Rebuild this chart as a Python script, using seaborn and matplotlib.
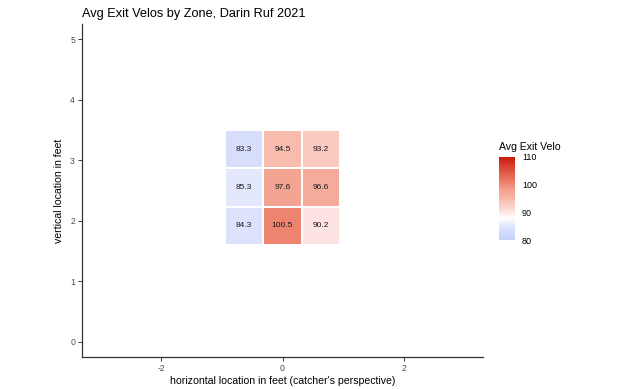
import numpy as np
import pandas as pd
import matplotlib
matplotlib.use("Agg")
import matplotlib.pyplot as plt
from matplotlib.colors import LinearSegmentedColormap
import seaborn as sns

# ---- data ----
zone_x = [-0.633, 0.0, 0.633, -0.633, 0.0, 0.633, -0.633, 0.0, 0.633]
zone_y = [3.183, 3.183, 3.183, 2.55, 2.55, 2.55, 1.917, 1.917, 1.917]
exit_velo = [83.3, 94.5, 93.2, 85.3, 97.6, 96.6, 84.3, 100.5, 90.2]
zone_w = 0.633
zone_h = 0.633
x_ticks = [-2, 0, 2]
y_ticks = [0, 1, 2, 3, 4, 5]
cbar_ticks = [80, 90, 100, 110]
title = "Avg Exit Velos by Zone, Darin Ruf 2021"
xlabel = "horizontal location in feet (catcher's perspective)"
ylabel = "vertical location in feet"
legend_title = "Avg Exit Velo"

df = pd.DataFrame({"x": zone_x, "y": zone_y, "v": exit_velo})

sns.set_theme(style="white")
plt.rcParams["font.family"] = ["Liberation Sans", "DejaVu Sans"]
plt.rcParams["axes.unicode_minus"] = False

vmin, vmax = 80, 110
anchors = [(80, "#c5d1fb"), (83.3, "#d6defc"), (84.3, "#dde3fc"), (85.3, "#e4e8fc"),
           (88, "#ffffff"), (90.2, "#fde3e1"), (93.2, "#fac9bf"), (94.5, "#f8bcaf"),
           (96.6, "#f5ab9a"), (97.6, "#f4a594"), (100.5, "#ee8470"), (110, "#cc1a0e")]
cmap = LinearSegmentedColormap.from_list(
    "ev", [((v - vmin) / (vmax - vmin), c) for v, c in anchors])

W, H = 624, 389
fig = plt.figure(figsize=(W / 100, H / 100), dpi=100)
ax = fig.add_axes([82 / W, 1 - 357 / H, (483 - 82) / W, (357 - 24) / H])
cax = fig.add_axes([499 / W, 1 - 240 / H, 16 / W, (240 - 157) / H])

xs = sorted(set(zone_x))
ys = sorted(set(zone_y))
xedges = [xs[0] - zone_w / 2] + [c + zone_w / 2 for c in xs]
yedges = [ys[0] - zone_h / 2] + [c + zone_h / 2 for c in ys]

sns.histplot(data=df, x="x", y="y", weights="v", bins=[xedges, yedges],
             cmap=cmap, vmin=vmin, vmax=vmax, cbar=True, cbar_ax=cax,
             edgecolor="white", linewidth=1.2, ax=ax)

for x, y, v in zip(zone_x, zone_y, exit_velo):
    ax.text(x, y, f"{v:.1f}", ha="center", va="center", fontsize=6, color="#1a1a1a")

ax.set_xlim(-3.3, 3.3)
ax.set_ylim(-0.25, 5.25)
ax.set_xticks(x_ticks)
ax.set_yticks(y_ticks)
ax.set_xlabel(xlabel, fontsize=7.6, color="black", labelpad=2)
ax.set_ylabel(ylabel, fontsize=7.6, color="black", labelpad=4)
ax.set_title(title, loc="left", fontsize=9.2, color="black", pad=5)
for s in ["top", "right"]:
    ax.spines[s].set_visible(False)
for s in ["left", "bottom"]:
    ax.spines[s].set_color("#333333")
    ax.spines[s].set_linewidth(0.9)
ax.tick_params(axis="both", which="both", length=3, width=0.7, color="#333333",
               labelsize=6.3, labelcolor="#4d4d4d", pad=2, left=True, bottom=True)

cb = ax.collections[0].colorbar
cb.outline.set_visible(False)
cb.set_ticks(cbar_ticks)
cax.tick_params(axis="y", direction="in", length=3, width=0.7, color="white",
                labelsize=6.5, labelcolor="black", pad=5, right=True, left=True)
cax.set_title(legend_title, fontsize=7.6, loc="left", pad=5, color="black")

fig.savefig("out.png", dpi=100)
